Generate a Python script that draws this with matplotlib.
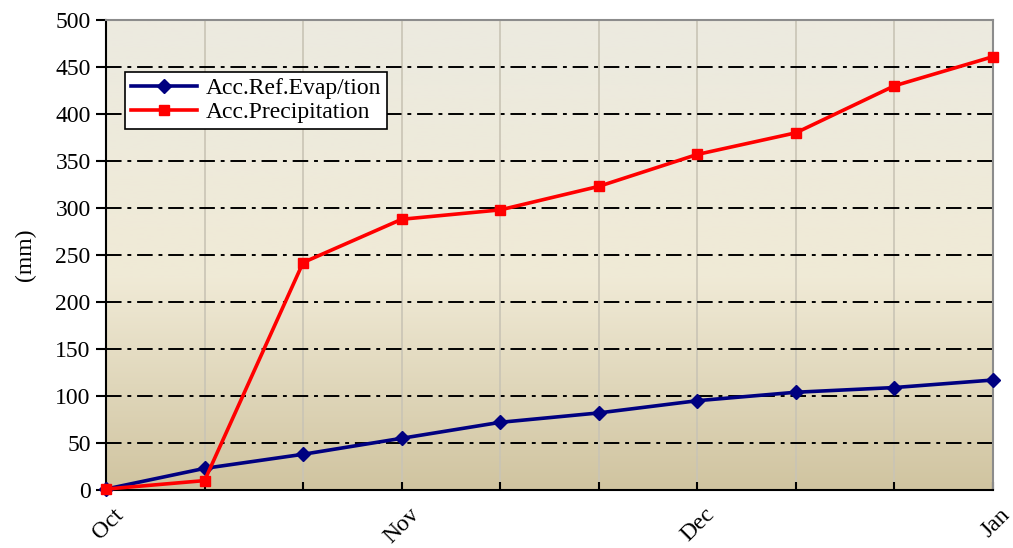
import matplotlib
matplotlib.use("Agg")
import matplotlib.pyplot as plt
import numpy as np
from matplotlib.colors import LinearSegmentedColormap

x_idx = list(range(10))
tick_pos = [0, 3, 6, 9]
tick_labels = ["Oct", "Nov", "Dec", "Jan"]
evap = [1, 23, 38, 55, 72, 82, 95, 104, 109, 117]
precip = [1, 10, 242, 288, 298, 323, 357, 380, 430, 461]

plt.rcParams['font.family'] = ['Liberation Serif', 'DejaVu Serif']

fig = plt.figure(figsize=(10.13, 5.48), dpi=100)
ax = fig.add_axes([106/1013, 1-490/548, (993-106)/1013, (490-20)/548])

cmap = LinearSegmentedColormap.from_list("bg", [(0, (208/255, 196/255, 160/255)),
                                                (0.45, (240/255, 234/255, 214/255)),
                                                (1, (236/255, 234/255, 224/255))])
grad = np.linspace(0, 1, 256).reshape(-1, 1)
ax.imshow(grad, aspect='auto', cmap=cmap, origin='lower',
          extent=[0, 9, 0, 500], zorder=0)

for xv in x_idx:
    ax.axvline(xv, color='#c9c4b5', lw=1.2, zorder=1)
for yv in range(50, 500, 50):
    ax.axhline(yv, color='black', lw=1.4, ls=(0, (8, 3, 2, 3)), zorder=1)

ax.plot(x_idx, evap, color='#000080', lw=2.6, marker='D', ms=7,
        label='Acc.Ref.Evap/tion', zorder=3, clip_on=False)
ax.plot(x_idx, precip, color='#ff0000', lw=2.6, marker='s', ms=7,
        label='Acc.Precipitation', zorder=3, clip_on=False)

ax.set_xlim(0, 9)
ax.set_ylim(0, 500)
ax.set_yticks(range(0, 501, 50))
ax.set_xticks(x_idx, minor=False)
ax.set_xticklabels(["" for _ in x_idx])
for p, l in zip(tick_pos, tick_labels):
    ax.text(p + 0.07, -15, l, rotation=45, ha='right', va='top', fontsize=17,
            rotation_mode='anchor', transform=ax.transData)
ax.tick_params(axis='x', direction='in', length=6, width=1.5, color='black')
ax.tick_params(axis='y', direction='out', length=7, width=1.5, labelsize=17, pad=4)

for s in ['left', 'bottom']:
    ax.spines[s].set_color('black')
    ax.spines[s].set_linewidth(1.5)
for s in ['top', 'right']:
    ax.spines[s].set_color('#8c8c8c')
    ax.spines[s].set_linewidth(1.5)

ax.set_ylabel('(mm)', fontsize=17, labelpad=14)

leg = ax.legend(loc='upper left', bbox_to_anchor=((125-106)/887, (490-72)/470),
                fontsize=17, frameon=True, fancybox=False, edgecolor='black',
                framealpha=1, borderpad=0.25, handlelength=2.8, labelspacing=0.1,
                handletextpad=0.35, borderaxespad=0)
leg.get_frame().set_linewidth(1.2)

fig.savefig("out.png", dpi=100)
